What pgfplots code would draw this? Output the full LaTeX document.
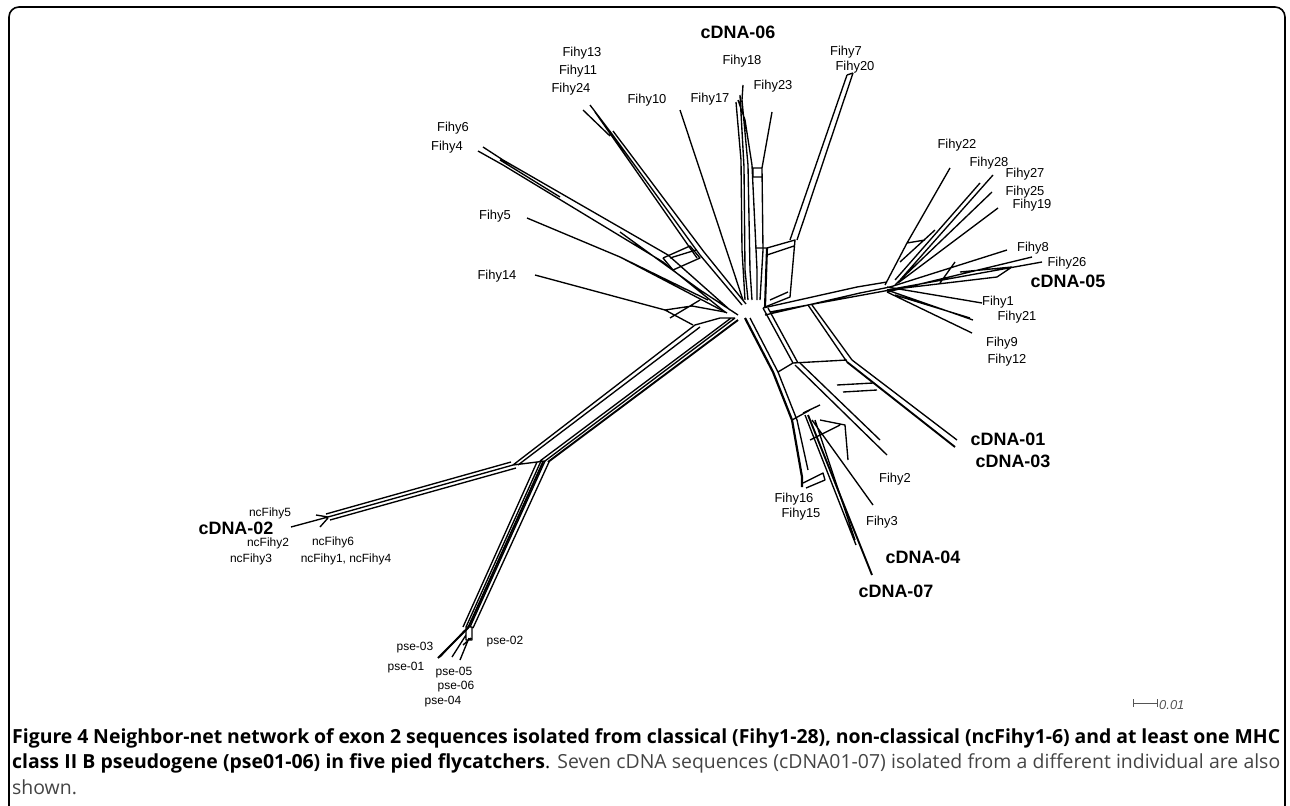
\documentclass[border=0pt]{standalone}
\usepackage{pgfplots}
\pgfplotsset{compat=1.18}
\usepackage{fontspec}
\setmainfont{Liberation Sans}
\newfontfamily\capfont{Open Sans}
\definecolor{capgray}{HTML}{444444}
\definecolor{bargray}{HTML}{555555}
\newcommand{\lab}[1]{{\fontsize{13}{15}\selectfont #1}}
\newcommand{\slab}[1]{{\fontsize{12}{14}\selectfont #1}}
\newcommand{\blab}[1]{{\fontsize{18}{20}\selectfont\bfseries #1}}
\begin{document}
\begin{tikzpicture}
\begin{axis}[
  scale only axis, width=1290bp, height=805bp,
  xmin=0, xmax=1290, ymin=0, ymax=805, y dir=reverse,
  hide axis, clip=true,
  cycle list={{black,mark=none}},
  every axis plot/.append style={line width=1.35bp, line join=round, forget plot, unbounded coords=jump},
]
\path (rel axis cs:0,0) rectangle (rel axis cs:1,1);
% frame
\draw[line width=1.6bp, rounded corners=10bp] (axis cs:9,830) -- (axis cs:9,7) -- (axis cs:1285,7) -- (axis cs:1285,830);

% ---- lower-left band to cDNA-02 and pse
\addplot coordinates {(513,465) (695,325) (nan,nan) (518,465) (700,327) (nan,nan)
 (545,461) (735,318) (nan,nan) (540,461) (731,318) (nan,nan) (513,465) (545,461) (nan,nan)
 (695,325) (720,318) (735,318)};
\addplot[black, line width=1.9bp] coordinates {(548,462) (738,320)};
\addplot coordinates {(513,465) (328,517) (nan,nan) (516,468) (330,520) (nan,nan) (511,462) (326,514) (nan,nan)
 (328,517) (291,527) (nan,nan) (328,517) (316,515) (nan,nan) (328,518) (320,527)};
\addplot coordinates {(545,461) (470,627) (nan,nan) (541,461) (466,627) (nan,nan) (549,462) (473,628) (nan,nan)
 (537,462) (463,627) (nan,nan) (466,627) (472,627) (472,640) (466,640) (466,627) (nan,nan)
 (465,630) (440,657) (nan,nan) (466,635) (452,657) (nan,nan) (469,638) (460,660) (nan,nan) (471,638) (463,645)};
\addplot[black, line width=1.9bp] coordinates {(543,462) (468,628) (438,658)};

% ---- left-top branches
\addplot coordinates {(478,151) (503,165) (663,262) (725,312) (nan,nan)
 (483,147) (503,160) (668,255) (730,310) (nan,nan)
 (500,160) (560,197) (nan,nan) (620,232) (700,290) (738,315)};
\addplot coordinates {(527,218) (620,257) (727,313) (nan,nan) (620,257) (708,300)};
\addplot coordinates {(535,275) (665,310) (693,325) (nan,nan) (665,310) (692,306) (725,312) (nan,nan) (670,318) (700,300)};
\addplot coordinates {(590,105) (612,134) (700,255) (742,305) (nan,nan)
 (583,110) (610,136) (nan,nan) (613,131) (704,252) (746,304) (nan,nan) (595,112) (697,258)};
\addplot coordinates {(663,258) (690,246) (700,258) (673,270) (663,258) (nan,nan) (670,258) (696,250)};
\addplot coordinates {(680,110) (743,300)};

% ---- top branches
\addplot coordinates {(743,85) (742,100) (748,165) (750,270) (752,300) (nan,nan)
 (738,100) (745,120) (752,165) (757,270) (757,300) (nan,nan)
 (740,95) (744,167) (745,270) (748,300) (nan,nan) (736,102) (741,160) (742,250) (745,300)};
\addplot coordinates {(772,112) (762,168) (763,250) (760,300) (nan,nan)
 (753,168) (762,168) (762,177) (753,177) (753,168)};
\addplot[black, line width=2.1bp] coordinates {(767,248) (765,307)};
\addplot coordinates {(755,248) (767,248) (795,240) (790,297) (765,307) (nan,nan) (767,255) (794,246) (nan,nan) (770,300) (788,292)};
\addplot coordinates {(847,75) (790,240) (nan,nan) (853,73) (797,240) (nan,nan) (847,75) (853,73)};

% ---- right branches
\addplot coordinates {(763,308) (857,287) (887,282) (nan,nan) (765,315) (860,293) (890,287) (nan,nan) (770,312) (890,290)};
\addplot coordinates {(950,168) (907,243) (885,285) (nan,nan)
 (993,175) (900,280) (nan,nan) (980,183) (895,280) (nan,nan) (992,192) (895,285) (nan,nan)
 (998,208) (898,283) (nan,nan) (907,243) (925,240) (nan,nan) (900,262) (935,230)};
\addplot coordinates {(1007,250) (890,287) (nan,nan) (1042,262) (887,290) (nan,nan) (1032,257) (887,292) (nan,nan)
 (887,290) (997,277) (1012,267) (960,272) (nan,nan) (940,283) (955,262)};
\addplot coordinates {(982,303) (887,287) (nan,nan) (973,320) (887,290) (nan,nan) (970,318) (895,295) (nan,nan) (972,333) (887,292)};

% ---- lower-right branches
\addplot[black, line width=2.2bp] coordinates {(745,318) (773,372) (792,420) (802,477) (802,487)};
\addplot coordinates {(750,318) (778,372) (797,420) (808,470) (nan,nan)
 (803,483) (823,473) (825,480) (806,488) (nan,nan) (763,308) (793,363) (nan,nan) (768,308) (798,363) (nan,nan)
 (808,305) (847,362) (nan,nan) (812,305) (852,360) (nan,nan) (778,372) (793,363) (847,360) (nan,nan)
 (792,420) (810,410)};
\addplot[black, line width=1.9bp] coordinates {(847,362) (955,447)};
\addplot coordinates {(852,360) (957,440) (nan,nan) (795,365) (887,455) (nan,nan) (800,363) (880,440) (nan,nan)
 (837,385) (873,383) (nan,nan) (843,392) (877,390)};
\addplot coordinates {(805,415) (856,545) (nan,nan) (812,420) (873,505) (nan,nan) (815,420) (855,540) (nan,nan) (803,413) (820,405) (nan,nan) (810,440) (840,425) (nan,nan) (820,420) (845,425) (848,460)};
\addplot[black, line width=1.9bp] coordinates {(808,415) (872,575)};

% ---- scale bar
\addplot[bargray, line width=0.9bp] coordinates {(1133,703) (1157,703) (nan,nan) (1133,699) (1133,707) (nan,nan) (1157,699) (1157,707)};
\node[anchor=west, text=bargray, inner sep=0] at (axis cs:1159,705) {\lab{\itshape 0.01}};

% ---- labels
\node at (axis cs:738,32) {\blab{cDNA-06}};
\node at (axis cs:582,53) {\lab{Fihy13}};
\node at (axis cs:578,71) {\lab{Fihy11}};
\node at (axis cs:571,89) {\lab{Fihy24}};
\node at (axis cs:742,61) {\lab{Fihy18}};
\node at (axis cs:773,86) {\lab{Fihy23}};
\node at (axis cs:710,99) {\lab{Fihy17}};
\node at (axis cs:647,100) {\lab{Fihy10}};
\node at (axis cs:846,52) {\lab{Fihy7}};
\node at (axis cs:855,67) {\lab{Fihy20}};
\node at (axis cs:453,128) {\lab{Fihy6}};
\node at (axis cs:447,147) {\lab{Fihy4}};
\node at (axis cs:495,216) {\lab{Fihy5}};
\node at (axis cs:497,276) {\lab{Fihy14}};
\node at (axis cs:957,145) {\lab{Fihy22}};
\node at (axis cs:989,163) {\lab{Fihy28}};
\node at (axis cs:1025,174) {\lab{Fihy27}};
\node at (axis cs:1025,192) {\lab{Fihy25}};
\node at (axis cs:1032,205) {\lab{Fihy19}};
\node at (axis cs:1033,248) {\lab{Fihy8}};
\node at (axis cs:1067,263) {\lab{Fihy26}};
\node at (axis cs:1068,281) {\blab{cDNA-05}};
\node at (axis cs:998,302) {\lab{Fihy1}};
\node at (axis cs:1017,317) {\lab{Fihy21}};
\node at (axis cs:1002,343) {\lab{Fihy9}};
\node at (axis cs:1007,360) {\lab{Fihy12}};
\node at (axis cs:1008,439) {\blab{cDNA-01}};
\node at (axis cs:1013,461) {\blab{cDNA-03}};
\node at (axis cs:895,479) {\lab{Fihy2}};
\node at (axis cs:882,522) {\lab{Fihy3}};
\node at (axis cs:794,499) {\lab{Fihy16}};
\node at (axis cs:801,514) {\lab{Fihy15}};
\node at (axis cs:923,557) {\blab{cDNA-04}};
\node at (axis cs:896,591) {\blab{cDNA-07}};
\node at (axis cs:270,513) {\slab{ncFihy5}};
\node at (axis cs:236,528) {\blab{cDNA-02}};
\node at (axis cs:268,543) {\slab{ncFihy2}};
\node at (axis cs:251,559) {\slab{ncFihy3}};
\node at (axis cs:333,542) {\slab{ncFihy6}};
\node at (axis cs:346,559) {\slab{ncFihy1, ncFihy4}};
\node at (axis cs:415,648) {\slab{pse-03}};
\node at (axis cs:406,668) {\slab{pse-01}};
\node at (axis cs:454,673) {\slab{pse-05}};
\node at (axis cs:456,687) {\slab{pse-06}};
\node at (axis cs:443,702) {\slab{pse-04}};
\node at (axis cs:505,642) {\slab{pse-02}};

% ---- caption
\node[anchor=north west, inner sep=0, text width=1268bp, align=justify] at (axis cs:12,728)
 {\capfont\fontsize{19.5}{26}\selectfont\textbf{Figure 4 Neighbor-net network of exon 2 sequences isolated from classical (Fihy1-28), non-classical (ncFihy1-6) and at least one MHC\linebreak class II B pseudogene (pse01-06) in five pied flycatchers}. {\color{capgray}Seven cDNA sequences (cDNA01-07) isolated from a different individual are also\linebreak shown.}\par};
\end{axis}
\end{tikzpicture}
\end{document}
